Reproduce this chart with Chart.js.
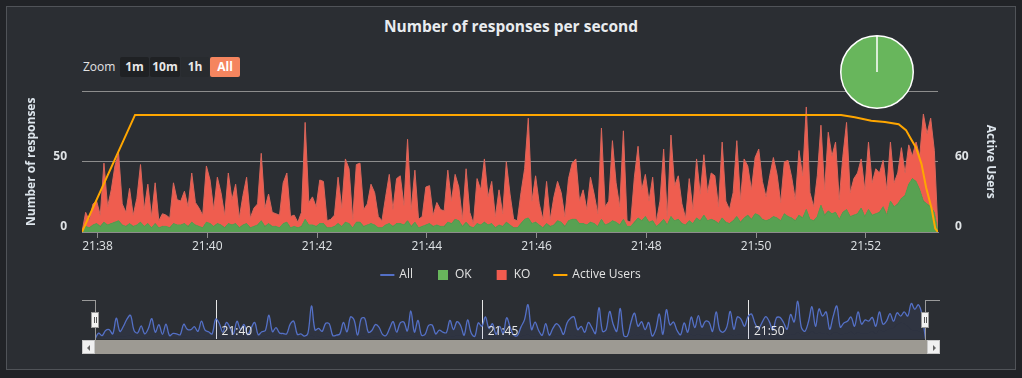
<!DOCTYPE html>
<html>
<head>
<meta charset="utf-8">
<script src="https://cdn.jsdelivr.net/npm/chart.js@4.4.1/dist/chart.umd.min.js"></script>
<style>
  html, body { margin:0; padding:0; width:1022px; height:378px; overflow:hidden; background:#212327; font-family:'Open Sans', 'DejaVu Sans', sans-serif; }
  .abs { position:absolute; }
  #card { left:6px; top:6px; width:1010px; height:364px; box-sizing:border-box; background:#2b2e33; border:1px solid #505358; }
  #title { left:0; top:15px; width:1022px; text-align:center; color:#e9ecef; font-weight:700; font-size:15.5px; line-height:22px; }
  #zoomLabel { left:83px; top:58px; color:#e3e3e3; font-size:12px; line-height:18px; }
  .btn { top:57px; height:20px; line-height:20px; font-size:12px; font-weight:700; color:#e8e8e8; text-align:center; border-radius:2px; }
  #b1m { left:120px; width:29px; background:#1f2124; }
  #b10m { left:150px; width:30px; background:#1f2124; }
  #b1h { left:181px; width:28px; background:#282b2f; }
  #bAll { left:210px; width:30px; background:#f5855f; color:#ffffff; }
  .navline { background:#9a9a9a; }
  .handle { width:6px; height:14px; background:#f2f2f2; border:1px solid #9a9a9a; }
  .handle::before, .handle::after { content:''; position:absolute; top:4px; width:1px; height:6px; background:#555; }
  .handle::before { left:2px; } .handle::after { left:4px; }
  #scroll { left:82px; top:340px; width:858px; height:14px; background:#9d9a93; }
  .sbtn { top:340px; width:13px; height:14px; background:#f0f0f0; box-sizing:border-box; border:1px solid #c8c8c8; }
  .arrowL { position:absolute; left:4px; top:4px; width:0; height:0; border-top:3px solid transparent; border-bottom:3px solid transparent; border-right:3px solid #666; }
  .arrowR { position:absolute; left:5px; top:4px; width:0; height:0; border-top:3px solid transparent; border-bottom:3px solid transparent; border-left:3px solid #666; }
</style>
</head>
<body>
<div id="card" class="abs"></div>
<div id="title" class="abs">Number of responses per second</div>
<div id="zoomLabel" class="abs">Zoom</div>
<div id="b1m" class="abs btn">1m</div>
<div id="b10m" class="abs btn">10m</div>
<div id="b1h" class="abs btn">1h</div>
<div id="bAll" class="abs btn">All</div>

<div class="abs" style="left:0;top:80px;width:1022px;height:211px;"><canvas id="main" width="1022" height="211"></canvas></div>
<div class="abs" style="left:840px;top:35px;width:74px;height:74px;"><canvas id="pie" width="74" height="74"></canvas></div>
<div class="abs" style="left:0;top:296px;width:1022px;height:44px;"><canvas id="nav" width="1022" height="44"></canvas></div>

<div class="abs navline" style="left:82px;top:300px;width:13px;height:1px;"></div>
<div class="abs navline" style="left:95px;top:300px;width:1px;height:40px;"></div>
<div class="abs navline" style="left:925px;top:300px;width:15px;height:1px;"></div>
<div class="abs navline" style="left:925px;top:300px;width:1px;height:40px;"></div>
<div id="scroll" class="abs"></div>
<div class="abs sbtn" style="left:82px;"><div class="arrowL"></div></div>
<div class="abs sbtn" style="left:927px;"><div class="arrowR"></div></div>
<div class="abs handle" style="left:91px;top:312px;"></div>
<div class="abs handle" style="left:921px;top:312px;"></div>

<script>
// ---- data ----
const startClock = '21:37:43';
const stepSeconds = 4;
const spanSeconds = 936;

const okCounts = [
  0,4,3,5,6,4,7,5,6,7,
  8,5,4,6,4,5,7,4,6,3,
  6,3,4,4,3,6,5,5,6,4,
  7,5,4,3,7,6,4,6,5,3,
  6,5,6,3,5,6,3,4,5,8,
  4,6,4,4,3,6,7,3,4,3,
  4,9,5,5,4,6,6,3,3,4,
  6,4,7,6,3,7,7,4,5,6,
  5,3,3,5,6,4,6,6,5,8,
  4,7,3,4,5,6,4,5,4,4,
  7,6,9,8,4,7,4,3,6,5,
  7,5,6,3,5,4,7,5,3,3,
  6,9,10,6,7,5,3,6,4,5,
  8,7,4,8,9,9,6,6,5,7,
  6,4,9,5,6,8,7,5,9,4,
  4,7,10,8,11,7,8,4,6,9,
  5,11,8,9,6,5,8,6,10,8,
  12,8,9,8,6,10,7,6,8,11,
  7,10,12,9,13,12,9,8,9,11,
  10,8,13,11,10,8,12,10,16,9,
  8,11,19,12,15,13,14,9,14,16,
  11,12,13,17,11,16,12,13,14,18,
  12,22,18,20,24,26,34,38,36,30,
  22,20,18,14,0
];
const koCounts = [
  0,10,5,15,16,8,42,13,24,40,
  48,15,10,25,8,19,41,12,28,8,
  29,5,9,8,7,29,18,17,23,14,
  35,16,13,9,40,31,12,33,23,9,
  36,18,28,7,21,33,7,13,15,48,
  13,21,10,9,9,29,35,8,8,4,
  10,69,16,20,14,31,30,5,6,8,
  33,13,45,39,6,41,42,12,15,28,
  23,8,5,20,35,12,32,34,14,58,
  12,37,6,7,27,27,8,16,12,11,
  37,16,32,24,5,38,10,3,32,25,
  45,20,30,8,25,9,43,22,6,5,
  22,36,71,16,33,15,6,30,5,20,
  28,21,7,30,40,43,16,24,11,32,
  21,9,65,13,16,57,28,13,63,4,
  3,32,51,22,30,15,31,3,16,50,
  6,58,25,31,14,5,30,10,42,19,
  43,20,33,32,12,54,15,10,20,54,
  16,42,35,21,40,47,27,17,31,42,
  31,13,37,40,29,15,46,30,73,19,
  10,29,57,18,56,41,50,14,40,62,
  17,26,29,35,19,48,23,32,28,33,
  18,42,17,22,36,16,28,16,28,24,
  62,50,63,44,0
];
const userTimes  = [0, 58, 830, 845, 863, 878, 893, 901, 906, 912, 918, 923, 929, 933, 936];
const userCounts = [0, 100, 100, 98, 95, 94, 92, 87, 80, 72, 58, 38, 20, 3, 0];

const timeTickLabels = ['21:38','21:40','21:42','21:44','21:46','21:48','21:50','21:52'];
const navigatorTickLabels = ['21:40','21:45','21:50'];
const leftTicks = [0, 50, 100];
const rightTicks = [0, 60, 120];
const legendNames = ['All', 'OK', 'KO', 'Active Users'];
const pieLabels = ['OK', 'KO'];
const pieValues = [100, 0];

// ---- helpers ----
const FONT = "'Open Sans', 'DejaVu Sans', sans-serif";
Chart.defaults.font.family = FONT;
function toSeconds(s) { const p = s.split(':').map(Number); return p[0]*3600 + p[1]*60 + (p[2] || 0); }
const t0 = toSeconds(startClock);
const sec = label => toSeconds(label) - t0;
const fmt = s => { const tot = t0 + s; const h = Math.floor(tot / 3600); const m = Math.floor((tot % 3600) / 60); return h + ':' + String(m).padStart(2, '0'); };

const okPts = okCounts.map((v, i) => ({ x: i * stepSeconds, y: v }));
const koPts = koCounts.map((v, i) => ({ x: i * stepSeconds, y: v }));
const userPts = userTimes.map((t, i) => ({ x: t, y: userCounts[i] }));

const C = { all:'#5470c6', ok:'#68b65c', okFill:'#58a152', ko:'#f15b4f', koFill:'#ef5d4f', koLine:'#d9665b', users:'#ffa600', grid:'#8d8d8d', text:'#dfe3e6', axisTitle:'#dde5ec' };
const legendStyles = [
  { pointStyle:'line', color:C.all },
  { pointStyle:'rect', color:C.ok },
  { pointStyle:'rect', color:C.ko },
  { pointStyle:'line', color:C.users }
];
const noPadV = s => { s.paddingTop = 0; s.paddingBottom = 0; };

new Chart(document.getElementById('main'), {
  type: 'line',
  data: { datasets: [
    { label:'Active Users', data:userPts, yAxisID:'y2', borderColor:C.users, borderWidth:2, pointRadius:0, fill:false, tension:0 },
    { label:'OK', data:okPts, yAxisID:'y', borderColor:C.okFill, backgroundColor:C.okFill, borderWidth:1, pointRadius:0, fill:'origin', tension:0 },
    { label:'KO', data:koPts, yAxisID:'y', borderColor:C.koLine, backgroundColor:C.koFill, borderWidth:1, pointRadius:0, fill:'-1', tension:0 }
  ]},
  options: {
    responsive:false, animation:false, events:[],
    layout:{ padding:{ left:20, right:20, top:11.5, bottom:0 } },
    plugins:{
      tooltip:{ enabled:false },
      legend:{ position:'bottom', onClick:null,
        labels:{ usePointStyle:true, boxWidth:12, boxHeight:10, padding:24, color:'#e4e4e4', font:{ size:12 },
          generateLabels: () => legendNames.map((n, i) => ({
            text:n, fillStyle:legendStyles[i].color, strokeStyle:legendStyles[i].color,
            lineWidth: legendStyles[i].pointStyle === 'line' ? 2 : 0,
            pointStyle:legendStyles[i].pointStyle, hidden:false, fontColor:'#e4e4e4', datasetIndex:i }))
        }
      }
    },
    scales:{
      x:{ type:'linear', min:0, max:spanSeconds,
        afterFit: s => { s.height = 13; s.paddingLeft = 0; s.paddingRight = 0; },
        afterBuildTicks: s => { s.ticks = timeTickLabels.map(l => ({ value: sec(l) })); },
        ticks:{ callback: v => fmt(v), color:C.text, font:{ size:12 }, mirror:true, padding:-22, maxRotation:0, autoSkip:false },
        grid:{ drawOnChartArea:false, drawTicks:true, tickLength:6, color:C.grid },
        border:{ display:true, color:C.grid }
      },
      y:{ position:'left', stacked:true, min:0, max:100,
        afterFit: s => { s.width = 62; noPadV(s); },
        afterBuildTicks: s => { s.ticks = leftTicks.map(v => ({ value:v })); },
        ticks:{ callback: v => (v === leftTicks[leftTicks.length-1] ? '' : v), color:C.text, font:{ size:12, weight:'bold' }, padding:15, labelOffset:-5 },
        grid:{ color:C.grid, drawTicks:false },
        border:{ display:false },
        title:{ display:true, text:'Number of responses', color:C.axisTitle, font:{ size:12, weight:'bold' }, padding:{ top:4, bottom:0 } }
      },
      y2:{ position:'right', min:0, max:120,
        afterFit: s => { s.width = 64; noPadV(s); },
        afterBuildTicks: s => { s.ticks = rightTicks.map(v => ({ value:v })); },
        ticks:{ callback: v => (v === rightTicks[rightTicks.length-1] ? '' : v), color:C.text, font:{ size:12, weight:'bold' }, padding:17, labelOffset:-5 },
        grid:{ drawOnChartArea:false, drawTicks:false },
        border:{ display:false },
        title:{ display:true, text:'Active Users', color:C.axisTitle, font:{ size:12, weight:'bold' }, padding:{ top:4, bottom:0 } }
      }
    }
  }
});

new Chart(document.getElementById('pie'), {
  type:'pie',
  data:{ labels:pieLabels, datasets:[{ data:pieValues, backgroundColor:[C.ok, C.ko], borderColor:'#ffffff', borderWidth:1.5 }] },
  options:{ responsive:false, animation:false, events:[], plugins:{ legend:{ display:false }, tooltip:{ enabled:false } } }
});

const navLabels = {
  id:'navLabels',
  afterDraw(chart) {
    const xs = chart.scales.x, ctx = chart.ctx;
    ctx.save();
    ctx.fillStyle = '#e8e8e8';
    ctx.font = '12px ' + FONT;
    ctx.textAlign = 'left';
    ctx.textBaseline = 'middle';
    navigatorTickLabels.forEach(l => ctx.fillText(l, xs.getPixelForValue(sec(l)) + 5, 36));
    ctx.restore();
  }
};

new Chart(document.getElementById('nav'), {
  type:'line',
  data:{ datasets:[
    { data:okPts, borderWidth:0, borderColor:'rgba(0,0,0,0)', pointRadius:0, fill:'origin', backgroundColor:'rgba(84,112,198,0.10)', tension:0.35 },
    { data:koPts, borderWidth:1.3, borderColor:C.all, pointRadius:0, fill:'-1', backgroundColor:'rgba(84,112,198,0.10)', tension:0.35 }
  ]},
  options:{ responsive:false, animation:false, events:[],
    layout:{ padding:{ left:95, right:96.5, top:4, bottom:1 } },
    plugins:{ legend:{ display:false }, tooltip:{ enabled:false } },
    scales:{
      x:{ type:'linear', min:0, max:spanSeconds,
        afterFit: s => { s.height = 0; s.paddingLeft = 0; s.paddingRight = 0; },
        afterBuildTicks: s => { s.ticks = navigatorTickLabels.map(l => ({ value: sec(l) })); },
        ticks:{ display:false },
        grid:{ color:'#e6e6e6', drawTicks:false, lineWidth:1 },
        border:{ display:false }
      },
      y:{ display:false, stacked:true, min:0, max:92 }
    }
  },
  plugins:[navLabels]
});
</script>
</body>
</html>
